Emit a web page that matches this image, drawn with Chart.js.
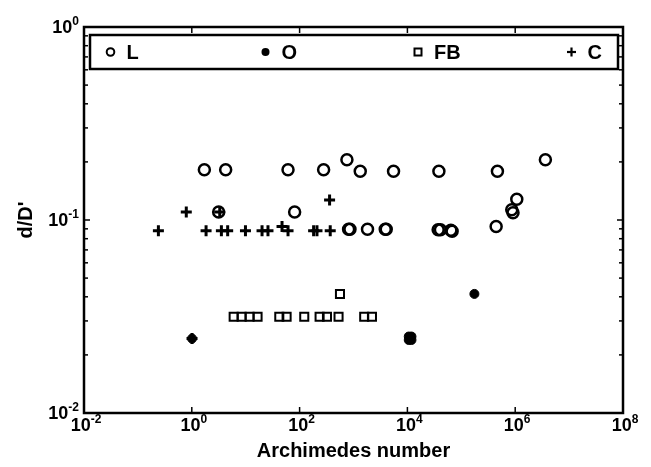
<!DOCTYPE html>
<html>
<head>
<meta charset="utf-8">
<script src="https://cdn.jsdelivr.net/npm/chart.js@4/dist/chart.umd.min.js"></script>
<style>
html,body{margin:0;padding:0;background:#fff;}
#wrap{width:651px;height:467px;position:relative;}
</style>
</head>
<body>
<div id="wrap"><canvas id="c" width="651" height="467"></canvas></div>
<script>
// ---- data ----
const seriesNames = ['L', 'O', 'FB', 'C'];

const L_x = [1.71, 4.25, 61, 279, 755, 1334, 5530, 38400, 468000, 3.63e6, 1.07e6, 8.63e5, 9.1e5, 4.43e5, 3.15, 80.9, 811, 860, 1820, 3880, 4050, 37200, 41000, 67600, 64000];
const L_y = [0.182, 0.182, 0.182, 0.182, 0.205, 0.179, 0.179, 0.179, 0.179, 0.205, 0.128, 0.113, 0.109, 0.0925, 0.110, 0.110, 0.0896, 0.0896, 0.0896, 0.0896, 0.0896, 0.089, 0.089, 0.0875, 0.0885];

const O_x = [1.01, 1.06e4, 1.19e4, 1.06e4, 1.19e4, 1.75e5];
const O_y = [0.0243, 0.0239, 0.0239, 0.0249, 0.0249, 0.0414];

const FB_x = [5.98, 8.41, 11.8, 16.6, 42, 57.4, 122, 235, 322, 528, 1580, 2200, 561];
const FB_y = [0.0315, 0.0315, 0.0315, 0.0315, 0.0315, 0.0315, 0.0315, 0.0315, 0.0315, 0.0315, 0.0315, 0.0315, 0.0414];

const C_x = [0.24, 0.79, 1.84, 3.3, 3.54, 4.63, 9.9, 20.1, 25.9, 47.2, 61, 182, 210, 360, 370, 1.01];
const C_y = [0.088, 0.110, 0.088, 0.110, 0.088, 0.088, 0.088, 0.088, 0.088, 0.0925, 0.088, 0.088, 0.088, 0.127, 0.088, 0.0243];

const xTickValues = [1e-2, 1e0, 1e2, 1e4, 1e6, 1e8];
const yTickValues = [1e-2, 1e-1, 1e0];

const xTitle = 'Archimedes number';
const yTitle = "d/D'";

// ---- helpers ----
function pts(xs, ys){ return xs.map((x,i)=>({x:x, y:ys[i]})); }
function expOf(v){ return String(Math.round(Math.log10(v))); }

const FONT = '"Liberation Sans", Arial, Helvetica, sans-serif';
const BASE_FONT = 'bold 18px ' + FONT;
const EXP_FONT = 'bold 12px ' + FONT;

const styles = {
  L:  {pointStyle:'circle', pointRadius:5.5, pointBorderWidth:2.5, pointBackgroundColor:'rgba(0,0,0,0)'},
  O:  {pointStyle:'circle', pointRadius:4.5, pointBorderWidth:1,   pointBackgroundColor:'#000'},
  FB: {pointStyle:'rect',   pointRadius:5.7, pointBorderWidth:2,   pointBackgroundColor:'rgba(0,0,0,0)'},
  C:  {pointStyle:'cross',  pointRadius:5.5, pointBorderWidth:3,   pointBackgroundColor:'#000'}
};
const seriesData = {L: pts(L_x, L_y), O: pts(O_x, O_y), FB: pts(FB_x, FB_y), C: pts(C_x, C_y)};

const datasets = seriesNames.map(n => Object.assign({
  label: n,
  data: seriesData[n],
  showLine: false,
  borderColor: '#000',
  pointBorderColor: '#000',
  pointHoverRadius: 0
}, styles[n]));

// power-of-ten tick labels with superscript exponents
function drawPow(ctx, v, x, baseline, align){
  const e = expOf(v);
  ctx.font = BASE_FONT; const wb = ctx.measureText('10').width;
  ctx.font = EXP_FONT;  const we = ctx.measureText(e).width;
  const w = wb + we;
  let left = align === 'right' ? x - w : x - w/2;
  ctx.textAlign = 'left';
  ctx.textBaseline = 'alphabetic';
  ctx.font = BASE_FONT; ctx.fillText('10', left, baseline);
  ctx.font = EXP_FONT;  ctx.fillText(e, left + wb, baseline - 8);
}

// frame, inward ticks, tick labels and in-plot legend box
const framePlugin = {
  id: 'frame',
  afterDraw(chart){
    const {ctx, chartArea:a, scales:{x, y}} = chart;
    ctx.save();
    ctx.strokeStyle = '#000';
    ctx.fillStyle = '#000';
    function line(x1,y1,x2,y2){ ctx.beginPath(); ctx.moveTo(x1,y1); ctx.lineTo(x2,y2); ctx.stroke(); }
    ctx.lineWidth = 1.5;
    xTickValues.forEach(v => {
      const px = x.getPixelForValue(v);
      line(px, a.bottom, px, a.bottom - 6);
      line(px, a.top, px, a.top + 6);
      drawPow(ctx, v, px + 2, a.bottom + 18, 'center');
    });
    const yMin = Math.log10(yTickValues[0]), yMax = Math.log10(yTickValues[yTickValues.length-1]);
    for (let d = yMin; d < yMax; d++){
      for (let m = 1; m <= 9; m++){
        const v = m * Math.pow(10, d);
        const py = y.getPixelForValue(v);
        const len = m === 1 ? 6 : 4;
        line(a.left, py, a.left + len, py);
        line(a.right, py, a.right - len, py);
      }
    }
    yTickValues.forEach(v => {
      const py = y.getPixelForValue(v);
      drawPow(ctx, v, a.left - 5, py + 6, 'right');
    });
    ctx.lineWidth = 2.5;
    ctx.strokeRect(a.left, a.top, a.right - a.left, a.bottom - a.top);

    // legend box
    const bx = a.left + 6, by = a.top + 8, bw = (a.right - 5) - bx, bh = 34;
    ctx.fillStyle = '#fff';
    ctx.fillRect(bx, by, bw, bh);
    ctx.lineWidth = 2.5;
    ctx.strokeRect(bx, by, bw, bh);
    const cy = by + bh/2;
    const markerX = [bx + 20.5, bx + 175.5, bx + 328, bx + 481.5];
    ctx.font = 'bold 20px ' + FONT;
    ctx.textBaseline = 'middle';
    ctx.textAlign = 'left';
    ctx.fillStyle = '#000';
    chart.data.datasets.forEach((ds, i) => {
      const mx = markerX[i];
      ctx.beginPath();
      if (ds.label === 'L'){ ctx.lineWidth = 2; ctx.arc(mx, cy, 3.8, 0, Math.PI*2); ctx.stroke(); }
      else if (ds.label === 'O'){ ctx.arc(mx, cy, 4, 0, Math.PI*2); ctx.fill(); }
      else if (ds.label === 'FB'){ ctx.lineWidth = 2; ctx.strokeRect(mx-3.5, cy-3.5, 7, 7); }
      else { ctx.lineWidth = 2.2; line(mx-4.5, cy, mx+4.5, cy); line(mx, cy-4.5, mx, cy+4.5); }
      ctx.fillText(ds.label, mx + 16, cy + 1);
    });
    ctx.restore();
  }
};

new Chart(document.getElementById('c'), {
  type: 'scatter',
  data: { datasets },
  options: {
    responsive: false,
    animation: false,
    devicePixelRatio: 1,
    layout: { padding: { left: 0, right: 28, top: 27, bottom: 0 } },
    plugins: { legend: { display: false }, tooltip: { enabled: false } },
    scales: {
      x: {
        type: 'logarithmic',
        min: xTickValues[0], max: xTickValues[xTickValues.length-1],
        afterBuildTicks(s){ s.ticks = xTickValues.map(v => ({value: v})); },
        afterFit(s){ s.height = 54; },
        grid: { display: false },
        border: { display: false },
        ticks: { display: false },
        title: { display: true, text: xTitle, color: '#000',
                 font: { family: FONT, size: 20, weight: 'bold' }, padding: { top: 0, bottom: 4 } }
      },
      y: {
        type: 'logarithmic',
        min: yTickValues[0], max: yTickValues[yTickValues.length-1],
        afterBuildTicks(s){ s.ticks = yTickValues.map(v => ({value: v})); },
        afterFit(s){ s.width = 84; },
        grid: { display: false },
        border: { display: false },
        ticks: { display: false },
        title: { display: true, text: yTitle, color: '#000',
                 font: { family: FONT, size: 20, weight: 'bold' }, padding: { top: 14, bottom: 0 } }
      }
    }
  },
  plugins: [framePlugin]
});
</script>
</body>
</html>
